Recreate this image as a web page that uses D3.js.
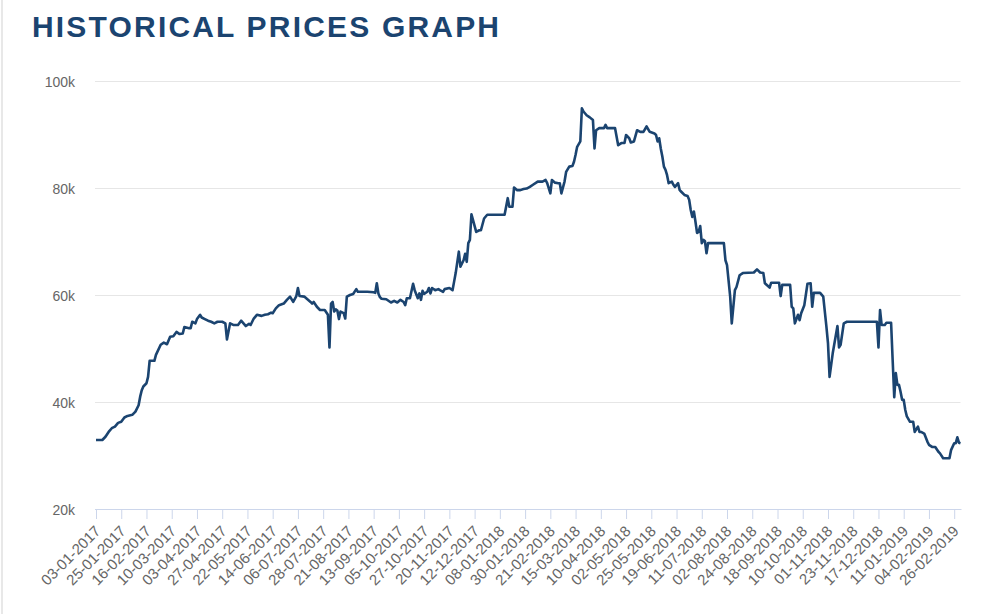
<!DOCTYPE html>
<html>
<head>
<meta charset="utf-8">
<script src="https://cdn.jsdelivr.net/npm/d3@7"></script>
<style>
  body { margin: 0; background: #fff; }
  svg { display: block; font-family: "Liberation Sans", Arial, sans-serif; }
</style>
</head>
<body>
<div id="chart"></div>
<script>
// tick labels on the category axis, one every 16 trading days
var tickLabels = ["03-01-2017","25-01-2017","16-02-2017","10-03-2017","03-04-2017","27-04-2017",
  "22-05-2017","14-06-2017","06-07-2017","28-07-2017","21-08-2017","13-09-2017","05-10-2017",
  "27-10-2017","20-11-2017","12-12-2017","08-01-2018","30-01-2018","21-02-2018","15-03-2018",
  "10-04-2018","02-05-2018","25-05-2018","19-06-2018","11-07-2018","02-08-2018","24-08-2018",
  "18-09-2018","10-10-2018","01-11-2018","23-11-2018","17-12-2018","11-01-2019","04-02-2019",
  "26-02-2019"];
var tickStep = 16;
var lastDay = 548;

// trading day number (0 = 03-01-2017) and price in thousands
var day = [0,4,6,8,10,12,14,16,18,20,23,25,27,28,29,30,32,33,34,37,38,41,43,45,47,49,51,53,55,56,
  59,60,61,63,64,66,67,69,71,73,75,77,80,82,83,85,87,90,92,95,97,98,100,102,105,107,109,111,112,114,
  116,119,121,123,125,127,128,129,132,134,136,137,138,140,142,145,147,148,149,150,151,152,153,154,155,157,158,159,161,163,
  165,166,172,176,177,178,179,180,181,184,187,189,191,193,195,196,197,199,201,202,204,205,206,207,208,210,211,212,213,215,
  217,218,220,221,224,226,227,228,230,231,233,234,235,236,237,238,239,241,243,244,246,248,259,261,262,264,265,267,269,271,
  273,275,277,280,283,285,286,288,289,291,293,294,295,297,298,300,302,303,304,305,307,308,309,311,313,315,316,317,319,322,
  323,324,329,331,333,335,336,338,339,341,343,345,347,349,351,354,355,356,357,358,359,360,361,362,363,365,366,367,369,370,
  371,373,375,376,377,378,379,380,381,382,383,384,385,386,387,388,398,399,400,402,403,405,406,408,410,417,419,421,423,424,
  427,428,433,434,435,440,441,442,443,445,446,447,449,451,453,454,455,459,461,463,464,465,467,470,471,472,474,476,495,496,
  497,498,500,501,504,505,506,507,508,509,510,511,512,513,514,516,518,519,521,522,523,525,527,528,530,532,534,535,537,541,
  542,544,545,546,547,548];
var priceK = [32.9,32.9,33.5,34.4,35.1,35.4,36.1,36.3,37.1,37.4,37.6,38.2,39.4,41.0,42.2,42.9,43.5,44.7,47.7,47.7,48.8,50.7,51.1,50.8,52.2,52.3,53.1,52.7,52.8,54.0,
  53.8,53.8,55.0,54.7,55.5,56.3,55.8,55.5,55.2,55.0,54.7,55.0,55.0,54.7,51.7,54.7,54.4,54.4,55.2,54.2,54.6,54.4,55.6,56.3,56.1,56.3,56.4,56.7,56.6,57.5,
  58.1,58.4,59.1,59.7,58.7,59.8,61.3,59.8,59.7,59.2,58.7,58.4,58.7,57.8,57.2,57.2,56.3,50.2,58.4,58.7,56.9,57.3,57.1,55.5,56.9,56.6,55.6,59.7,60.0,60.2,
  61.1,60.6,60.6,60.5,60.4,62.2,60.3,59.6,59.3,59.2,58.6,58.9,58.6,59.1,58.7,58.1,59.4,59.4,62.1,60.9,59.4,60.3,59.1,60.8,60.2,60.6,61.3,60.3,61.3,60.9,
  61.1,60.9,60.6,61.1,61.3,60.9,62.5,64.1,68.1,65.3,66.5,67.7,66.2,69.7,70.3,75.1,74.0,71.8,72.1,72.1,74.3,75.0,75.0,78.1,76.5,76.5,80.1,79.6,79.6,79.8,
  79.9,80.2,80.6,81.2,81.2,81.5,80.9,79.0,81.5,81.0,80.9,80.9,79.0,81.2,83.0,84.0,84.1,84.9,86.2,87.7,88.7,94.9,94.3,93.6,93.2,92.7,87.4,90.8,91.2,91.2,
  91.8,91.2,91.2,88.0,88.4,88.4,89.9,89.3,88.5,88.7,90.8,90.5,90.5,91.5,90.5,90.2,89.9,88.7,89.3,87.4,85.9,84.0,83.4,82.4,80.9,81.2,80.6,80.2,80.9,79.6,
  79.3,78.7,78.5,77.8,75.9,74.6,75.6,73.7,71.6,71.8,72.9,69.7,70.3,70.1,67.8,69.7,69.7,66.5,65.6,59.7,54.7,60.9,61.5,63.7,64.1,64.2,64.8,64.2,64.1,62.2,
  61.4,62.3,62.3,59.8,61.9,61.9,57.8,57.5,54.7,56.3,55.3,56.6,58.1,62.1,62.2,57.8,60.4,60.4,59.7,54.1,51.0,44.7,49.1,54.2,50.2,50.7,54.7,55.0,55.0,50.2,
  57.2,54.4,54.4,54.8,54.8,47.8,40.9,45.4,43.2,43.2,41.9,40.4,40.4,38.5,37.3,36.3,36.3,34.4,35.4,34.4,34.4,34.1,32.6,32.0,31.6,31.6,30.7,30.4,29.5,29.5,
  31.0,32.3,32.3,33.4,32.4,32.3];
var yTicks = [20000, 40000, 60000, 80000, 100000];

var width = 1000;
var height = 614;
var plotLeft = 96;
var plotRight = 960.5;
var plotTop = 81;
var plotBottom = 509;

var points = day.map(function(d, i) {
  return { day: d, price: priceK[i] * 1000 };
});

var svg = d3.select("#chart")
  .append("svg")
  .attr("width", width)
  .attr("height", height);

// faint page border on the left
svg.append("rect")
  .attr("x", 1).attr("y", 0)
  .attr("width", 2).attr("height", height)
  .attr("fill", "#e8e8e8");

// title
svg.append("text")
  .attr("x", 32)
  .attr("y", 37)
  .attr("fill", "#1b4470")
  .attr("font-size", 30)
  .attr("font-weight", "bold")
  .attr("textLength", 467)
  .attr("lengthAdjust", "spacing")
  .text("HISTORICAL PRICES GRAPH");

var xScale = d3.scaleLinear()
  .domain([0, lastDay])
  .range([plotLeft, plotRight]);

var yScale = d3.scaleLinear()
  .domain([20000, 100000])
  .range([plotBottom, plotTop]);

// gridlines + y labels
var yAxis = d3.axisLeft(yScale)
  .tickValues(yTicks)
  .tickSize(-(plotRight - plotLeft + 1))
  .tickPadding(20)
  .tickFormat(function(d) { return (d / 1000) + "k"; });

var yG = svg.append("g")
  .attr("class", "yAxis")
  .attr("transform", `translate(${plotLeft - 1}, 0)`)
  .call(yAxis);
yG.select(".domain").remove();
yG.selectAll(".tick line").attr("stroke", "#e6e6e6").attr("stroke-width", 1);
yG.selectAll(".tick text")
  .attr("fill", "#666")
  .attr("font-size", 14)
  .attr("font-family", "Liberation Sans, Arial, sans-serif")
  .attr("dy", "0.4em");

// x axis with rotated date labels
var xAxis = d3.axisBottom(xScale)
  .tickValues(tickLabels.map(function(d, i) { return i * tickStep; }))
  .tickSize(10)
  .tickFormat(function(d) { return tickLabels[d / tickStep]; });

var xG = svg.append("g")
  .attr("class", "xAxis")
  .attr("transform", `translate(0, ${plotBottom})`)
  .call(xAxis);
xG.select(".domain")
  .attr("stroke", "#ccd6eb")
  .attr("d", `M${plotLeft - 1},0.5H${plotRight + 1}`);
xG.selectAll(".tick line").attr("stroke", "#ccd6eb");
xG.selectAll(".tick text")
  .attr("fill", "#666")
  .attr("font-size", 15)
  .attr("font-family", "Liberation Sans, Arial, sans-serif")
  .attr("text-anchor", "end")
  .attr("dy", null)
  .attr("y", 0)
  .attr("transform", "translate(5, 23) rotate(-45)");

// price line
var line = d3.line()
  .x(function(d) { return xScale(d.day); })
  .y(function(d) { return yScale(d.price); });

svg.append("path")
  .datum(points)
  .attr("fill", "none")
  .attr("stroke", "#1b4470")
  .attr("stroke-width", 2.6)
  .attr("stroke-linejoin", "round")
  .attr("d", line);
</script>
</body>
</html>
